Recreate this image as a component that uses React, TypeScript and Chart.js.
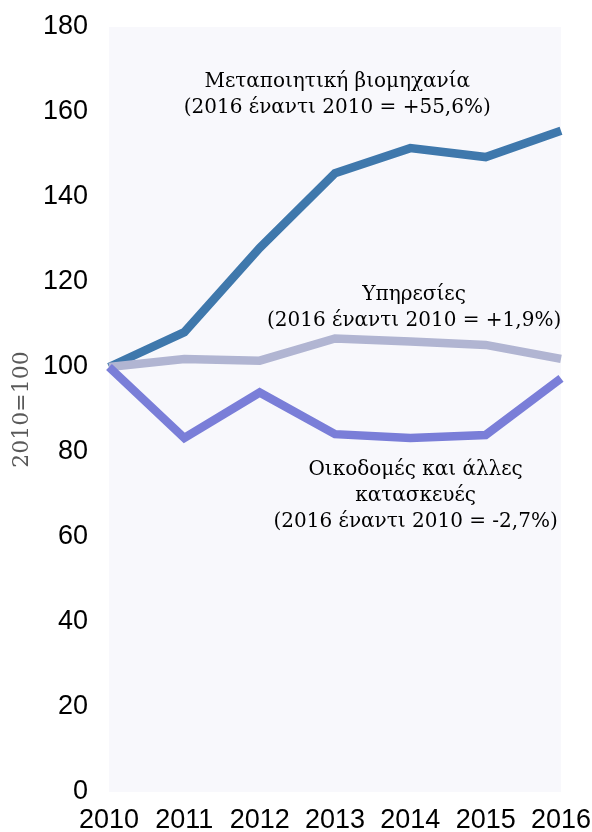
import React, { useEffect, useRef } from 'react';
import { Chart, registerables } from 'chart.js';

Chart.register(...registerables);

const years = ['2010', '2011', '2012', '2013', '2014', '2015', '2016'];
const manufacturing = [100, 108.2, 128.0, 145.6, 151.5, 149.4, 155.6];
const services = [100, 101.9, 101.5, 106.7, 106.0, 105.2, 101.9];
const construction = [100, 83.3, 94.0, 84.2, 83.3, 84.0, 97.3];

const manufacturingLabel = ['Μεταποιητική βιομηχανία', '(2016 έναντι 2010 = +55,6%)'];
const servicesLabel = ['Υπηρεσίες', '(2016 έναντι 2010 = +1,9%)'];
const constructionLabel = ['Οικοδομές και άλλες', 'κατασκευές', '(2016 έναντι 2010 = -2,7%)'];

const yTitle = '2010=100';

const annotations = [
  { lines: manufacturingLabel, x: 3.03, y: 167.0 },
  { lines: servicesLabel, x: 4.05, y: 117.0 },
  { lines: constructionLabel, x: 4.07, y: 75.8 },
];

const TEXT_FONT = '20px "DejaVu Serif"';
const LINE_GAP = 26;

const bgPlugin = {
  id: 'plotBg',
  beforeDraw(chart: any) {
    const { ctx, chartArea } = chart;
    ctx.save();
    ctx.fillStyle = '#f8f8fc';
    ctx.fillRect(chartArea.left, chartArea.top, chartArea.right - chartArea.left, chartArea.bottom - chartArea.top);
    ctx.restore();
  },
};

const annotationPlugin = {
  id: 'textNotes',
  afterDatasetsDraw(chart: any) {
    const { ctx, scales } = chart;
    ctx.save();
    ctx.font = TEXT_FONT;
    ctx.fillStyle = '#000000';
    ctx.textAlign = 'center';
    ctx.textBaseline = 'middle';
    annotations.forEach((a) => {
      const cx = scales.x.getPixelForValue(a.x);
      const cy = scales.y.getPixelForValue(a.y);
      a.lines.forEach((line, i) => {
        ctx.fillText(line, cx, cy + i * LINE_GAP);
      });
    });
    ctx.restore();
  },
};

export default function App() {
  const ref = useRef<HTMLCanvasElement | null>(null);

  useEffect(() => {
    if (!ref.current) return;
    const lineCommon = {
      borderWidth: 8.5,
      pointRadius: 0,
      pointHoverRadius: 0,
      tension: 0,
      fill: false,
      borderJoinStyle: 'miter' as const,
      borderCapStyle: 'butt' as const,
    };
    const chart = new Chart(ref.current, {
      type: 'line',
      data: {
        labels: years,
        datasets: [
          { label: 'Οικοδομές και άλλες κατασκευές', data: construction, borderColor: '#7a7ed8', backgroundColor: '#7a7ed8', ...lineCommon },
          { label: 'Υπηρεσίες', data: services, borderColor: '#b1b5d2', backgroundColor: '#b1b5d2', ...lineCommon },
          { label: 'Μεταποιητική βιομηχανία', data: manufacturing, borderColor: '#3f78ac', backgroundColor: '#3f78ac', ...lineCommon },
        ],
      },
      options: {
        animation: false,
        responsive: false,
        maintainAspectRatio: false,
        events: [],
        layout: { padding: { top: 27, right: 31, left: 0, bottom: 0 } },
        plugins: {
          legend: { display: false },
          tooltip: { enabled: false },
          title: { display: false },
        },
        scales: {
          x: {
            type: 'category',
            offset: false,
            grid: { display: false, drawTicks: false },
            border: { display: false },
            ticks: {
              color: '#000000',
              font: { family: '"Liberation Sans", Arial, sans-serif', size: 27 },
              padding: 12,
              maxRotation: 0,
              autoSkip: false,
            },
            afterFit(scale: any) {
              scale.height = 40;
              scale.paddingLeft = 0;
              scale.paddingRight = 0;
            },
          },
          y: {
            min: 0,
            max: 180,
            grid: { display: false, drawTicks: false },
            border: { display: false },
            ticks: {
              stepSize: 20,
              color: '#000000',
              font: { family: '"Liberation Sans", Arial, sans-serif', size: 27 },
              padding: 21,
            },
            title: {
              display: true,
              text: yTitle,
              color: '#595959',
              font: { family: '"DejaVu Serif", serif', size: 22 },
              padding: { top: 9, bottom: 0 },
            },
            afterFit(scale: any) {
              scale.width = 109;
              scale.paddingTop = 0;
              scale.paddingBottom = 0;
            },
          },
        },
      },
      plugins: [bgPlugin, annotationPlugin],
    });
    return () => chart.destroy();
  }, []);

  return (
    <div style={{ position: 'absolute', left: 0, top: 0, width: 592, height: 832 }}>
      <canvas ref={ref} width={592} height={832} style={{ display: 'block', width: 592, height: 832 }} />
    </div>
  );
}
